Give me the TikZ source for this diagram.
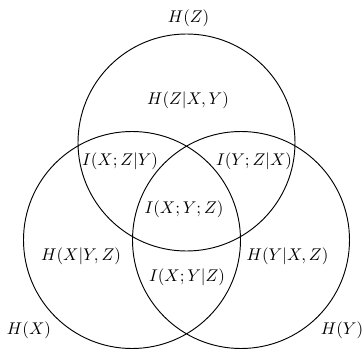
\documentclass[tikz,border=0pt]{standalone}
\begin{document}
\begin{tikzpicture}[x=0.59pt,y=-0.59pt,
  venn/.style={draw=black,line width=0.55pt,circle,minimum size=217*0.59pt,inner sep=0pt},
  lbl/.style={inner sep=0pt}]
\useasboundingbox (0,0) rectangle (363,349);
\node[venn] (cz) at (186.5,142.5) {};
\node[venn] (cx) at (132,240) {};
\node[venn] (cy) at (241,240) {};
\node[lbl] (hz) at (188.5,18) {$H(Z)$};
\node[lbl] (hzxy) at (188,100) {$H(Z|X,Y)$};
\node[lbl] (ixzy) at (120,161) {$I(X;Z|Y)$};
\node[lbl] (iyzx) at (254,161) {$I(Y;Z|X)$};
\node[lbl] (ixyz) at (184,209) {$I(X;Y;Z)$};
\node[lbl] (hxyz) at (81,256) {$H(X|Y,Z)$};
\node[lbl] (hyxz) at (287.5,256) {$H(Y|X,Z)$};
\node[lbl] (ixyIz) at (187,277) {$I(X;Y|Z)$};
\node[lbl] (hx) at (29,330) {$H(X)$};
\node[lbl] (hy) at (342,330) {$H(Y)$};
\end{tikzpicture}
\end{document}
